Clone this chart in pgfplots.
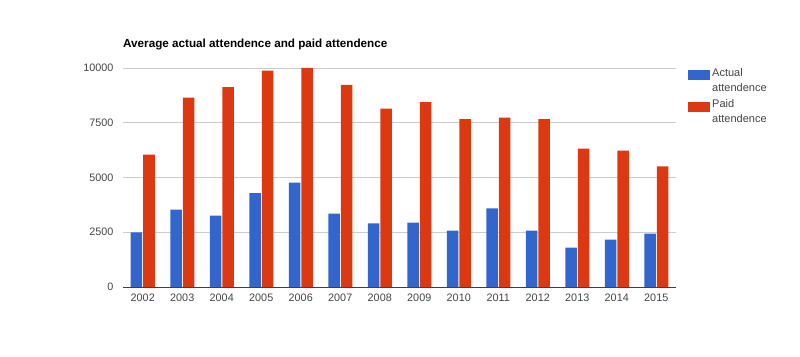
\documentclass[border=0pt]{standalone}
\usepackage{pgfplots}
\pgfplotsset{compat=1.18}
\usepackage{fontspec}
\setmainfont{Liberation Sans}
\definecolor{gblue}{HTML}{3366CC}
\definecolor{gred}{HTML}{DC3912}
\definecolor{ggrid}{HTML}{CCCCCC}
\definecolor{gtext}{HTML}{444444}
\begin{document}
\begin{tikzpicture}
\path[use as bounding box] (-123pt,-69pt) rectangle (677pt,287pt);
\begin{axis}[
  scale only axis,
  width=553pt, height=219pt,
  anchor=south west, at={(0pt,0pt)},
  ybar=1pt, bar width=11.5pt,
  xmin=-0.5, xmax=13.5,
  ymin=0, ymax=10000,
  ytick={0,2500,5000,7500,10000},
  scaled y ticks=false,
  xtick={0,...,13},
  xticklabels={2002,2003,2004,2005,2006,2007,2008,2009,2010,2011,2012,2013,2014,2015},
  /pgf/number format/.cd, 1000 sep={}, assume math mode=true, /pgfplots/.cd,
  axis y line*=none,
  axis x line*=bottom,
  axis line style={draw=none},
  ymajorgrids, grid style={ggrid, line width=0.8pt},
  major tick length=0pt,
  tick label style={font=\fontsize{10.8}{12}\selectfont, text=gtext},
  yticklabel style={xshift=-6pt},
  xticklabel style={yshift=-3pt},
  legend style={at={(1,1)}, anchor=north west, xshift=9pt, yshift=4pt, draw=none,
    font=\fontsize{11}{15}\selectfont, text=gtext, cells={align=left, anchor=west},
    row sep=3pt},
  legend image code/.code={\fill[#1] (0pt,0pt) rectangle (22pt,10pt);},
  clip=false,
]
\addplot[fill=gblue, draw=none] coordinates {
(0,2500) (1,3530) (2,3257) (3,4292) (4,4764) (5,3349) (6,2907)
(7,2938) (8,2572) (9,3592) (10,2572) (11,1796) (12,2161) (13,2435)};
\addplot[fill=gred, draw=none] coordinates {
(0,6043) (1,8645) (2,9132) (3,9878) (4,10000) (5,9224) (6,8143)
(7,8447) (8,7671) (9,7732) (10,7671) (11,6317) (12,6225) (13,5510)};
\legend{Actual\\attendence, Paid\\attendence}
\draw[color=black!75, line width=0.9pt] (rel axis cs:0,0) -- (rel axis cs:1,0);
\node[anchor=base west, font=\bfseries\fontsize{11.7}{13}\selectfont, inner sep=0pt] at ([yshift=20pt]rel axis cs:0,1) {Average actual attendence and paid attendence};
\end{axis}
\end{tikzpicture}
\end{document}
